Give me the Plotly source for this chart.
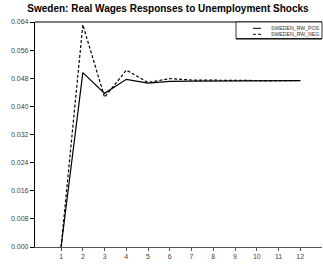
import plotly.graph_objects as go

periods = list(range(1, 13))
rw_pos = [0.0, 0.0496, 0.0437, 0.0477, 0.0466, 0.0471, 0.0472, 0.0472, 0.0473, 0.0473, 0.0473, 0.0473]
rw_neg = [0.0, 0.0632, 0.0426, 0.0503, 0.0468, 0.0479, 0.0475, 0.0474, 0.0474, 0.0473, 0.0473, 0.0473]
y_ticks = [0.000, 0.008, 0.016, 0.024, 0.032, 0.040, 0.048, 0.056, 0.064]
series_names = ["SWEDEN_RW_POS", "SWEDEN_RW_NEG"]
series_dash = ["solid", "3px,2px"]

fig = go.Figure()
for name, vals, dash in zip(series_names, [rw_pos, rw_neg], series_dash):
    fig.add_trace(go.Scatter(x=periods, y=vals, name=name, mode="lines",
                             line=dict(color="black", width=1.2, dash=dash)))

# manual legend (box, samples, labels)
shapes = [
    dict(type="line", xref="paper", yref="paper", x0=0, x1=1, y0=1, y1=1,
         line=dict(color="black", width=1.2)),
    dict(type="rect", xref="paper", yref="paper", x0=0.7003, x1=1.0, y0=0.9267, y1=1.0,
         line=dict(color="black", width=0.8), fillcolor="white"),
    dict(type="line", xref="paper", yref="paper", x0=0.7003, x1=1.0, y0=0.9245, y1=0.9245,
         line=dict(color="black", width=1.2)),
]
annotations = []
row_y = [0.972, 0.9453]
for name, dash, yy in zip(series_names, series_dash, row_y):
    shapes.append(dict(type="line", xref="paper", yref="paper", x0=0.7596, x1=0.7875,
                       y0=yy, y1=yy, line=dict(color="black", width=1, dash=dash)))
    annotations.append(dict(text=name, xref="paper", yref="paper", x=0.8153, y=yy,
                            xanchor="left", yanchor="middle", showarrow=False,
                            font=dict(size=5.2, color="#333")))

fig.update_layout(
    width=323, height=267,
    margin=dict(l=35, r=1, t=22, b=20, autoexpand=False),
    paper_bgcolor="white", plot_bgcolor="white",
    font=dict(family="Liberation Sans, Arial", size=7, color="#333"),
    title=dict(text="<b>Sweden: Real Wages Responses to Unemployment Shocks</b>",
               x=0.52, xanchor="center", y=0.97, yanchor="middle",
               font=dict(size=10, color="black")),
    showlegend=False,
    xaxis=dict(range=[-0.2, 13.0], tickvals=periods, ticks="outside", ticklen=3,
               tickcolor="#555", showgrid=False, zeroline=False, showline=True,
               linecolor="#555", linewidth=1, tickfont=dict(size=7, color="#444"),
               automargin=False),
    yaxis=dict(range=[0, 0.064], tickvals=y_ticks, tickformat=".3f", ticks="outside",
               ticklen=4, tickcolor="black", showgrid=False, zeroline=False,
               showline=True, linecolor="black", linewidth=1.2,
               tickfont=dict(size=7, color="#444"), automargin=False),
    shapes=shapes,
    annotations=annotations,
)
fig.write_html("out.html", config={"displayModeBar": False},
               post_script="document.body.style.margin='0';document.body.style.padding='0';")
